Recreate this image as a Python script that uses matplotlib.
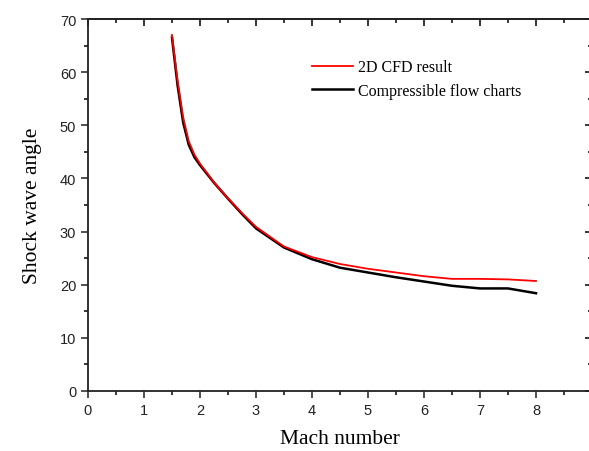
import numpy as np
import matplotlib.pyplot as plt
from matplotlib.ticker import MultipleLocator

# data
mach = [1.5, 1.6, 1.7, 1.8, 1.9, 2.0, 2.25, 2.5, 2.75, 3.0, 3.5, 4.0,
        4.5, 5.0, 5.5, 6.0, 6.5, 7.0, 7.5, 8.0]
cfd = [67.0, 58.5, 51.5, 47.0, 44.5, 42.8, 39.3, 36.3, 33.5, 30.9, 27.2, 25.2,
       23.9, 23.0, 22.3, 21.6, 21.1, 21.1, 21.0, 20.7]
charts = [66.5, 57.5, 50.5, 46.3, 44.0, 42.5, 39.2, 36.2, 33.3, 30.6, 27.0, 24.8,
          23.2, 22.3, 21.4, 20.6, 19.8, 19.3, 19.3, 18.4]

serif = ['Liberation Serif', 'DejaVu Serif']
sans = ['Liberation Sans', 'DejaVu Sans']

fig = plt.figure(figsize=(5.89, 4.52), dpi=100)
ax = fig.add_axes([88/589, 60/452, 504/589, 372/452])

ax.plot(mach, charts, color='black', lw=1.8, label='Compressible flow charts', zorder=2)
ax.plot(mach, cfd, color='red', lw=1.3, label='2D CFD result', zorder=3)

ax.set_xlim(0, 9)
ax.set_ylim(0, 70)
ax.xaxis.set_major_locator(MultipleLocator(1))
ax.xaxis.set_minor_locator(MultipleLocator(0.5))
ax.yaxis.set_major_locator(MultipleLocator(10))
ax.yaxis.set_minor_locator(MultipleLocator(5))
ax.tick_params(which='major', direction='out', length=5, width=1.1, labelsize=10.5, colors='#222222')
ax.tick_params(which='minor', direction='out', length=3, width=1.1)
for lab in ax.get_xticklabels() + ax.get_yticklabels():
    lab.set_family(sans)

# top and right ticks point inwards
top = ax.secondary_xaxis('top')
top.xaxis.set_major_locator(MultipleLocator(1))
top.xaxis.set_minor_locator(MultipleLocator(0.5))
top.tick_params(which='major', direction='in', length=5, width=1.1, labeltop=False)
top.tick_params(which='minor', direction='in', length=3, width=1.1)
right = ax.secondary_yaxis('right')
right.yaxis.set_major_locator(MultipleLocator(10))
right.yaxis.set_minor_locator(MultipleLocator(5))
right.tick_params(which='major', direction='in', length=5, width=1.1, labelright=False)
right.tick_params(which='minor', direction='in', length=3, width=1.1)

for sp in list(ax.spines.values()) + [top.spines['top'], right.spines['right']]:
    sp.set_linewidth(1.3)
    sp.set_color('#222222')

ax.set_xlabel('Mach number', family=serif, fontsize=15.5, labelpad=9)
ax.set_ylabel('Shock wave angle', family=serif, fontsize=15.5, labelpad=13)

handles, labels = ax.get_legend_handles_labels()
ax.legend(handles[::-1], labels[::-1], loc='upper left', bbox_to_anchor=(0.415, 0.93),
          frameon=False, prop={'family': serif, 'size': 11.5},
          handlelength=2.6, handletextpad=0.3, labelspacing=0.45)

fig.savefig('out.png', dpi=100)
